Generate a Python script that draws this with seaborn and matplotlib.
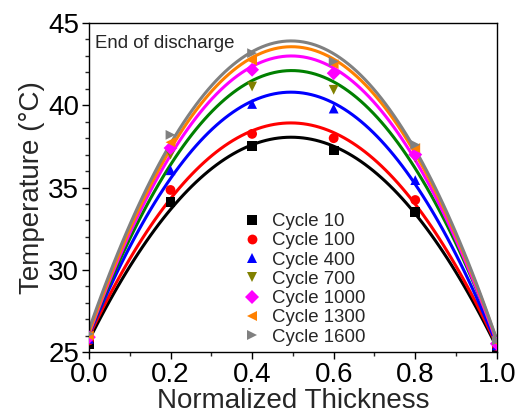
import numpy as np
import pandas as pd
import matplotlib
matplotlib.use("Agg")
import matplotlib.pyplot as plt
import seaborn as sns
from matplotlib.ticker import MultipleLocator, FormatStrFormatter

sns.set_theme(style="ticks")
plt.rcParams['font.family'] = ['Liberation Sans', 'DejaVu Sans']

# data
thickness = [0.0, 0.2, 0.4, 0.6, 0.8, 1.0]
cycles = ["Cycle 10", "Cycle 100", "Cycle 400", "Cycle 700", "Cycle 1000", "Cycle 1300", "Cycle 1600"]
temp_c10 = [25.5, 34.1, 37.5, 37.25, 33.5, 25.3]
temp_c100 = [25.7, 34.85, 38.26, 38.0, 34.24, 25.35]
temp_c400 = [25.8, 36.05, 40.08, 39.8, 35.45, 25.4]
temp_c700 = [25.85, 37.0, 41.14, 40.94, 36.8, 25.5]
temp_c1000 = [25.9, 37.4, 42.16, 41.95, 37.0, 25.5]
temp_c1300 = [26.0, 37.75, 42.72, 42.5, 37.4, 25.6]
temp_c1600 = [26.1, 38.2, 43.17, 42.66, 37.6, 25.7]

all_temps = [temp_c10, temp_c100, temp_c400, temp_c700, temp_c1000, temp_c1300, temp_c1600]
marker_colors = ["black", "red", "blue", "#808000", "magenta", "#FF8000", "#808080"]
line_colors = ["black", "red", "blue", "#008000", "magenta", "#FF8000", "#808080"]
markers = ["s", "o", "^", "v", "D", "<", ">"]

df = pd.DataFrame({
    "x": thickness * len(cycles),
    "T": [t for temps in all_temps for t in temps],
    "cycle": [c for c in cycles for _ in thickness],
})

fig = plt.figure(figsize=(5.17, 4.19), dpi=100)
ax = fig.add_axes([0.172, 0.16, 0.789, 0.785])

# quadratic fits, one per cycle
for i, c in enumerate(cycles):
    sub = df[df["cycle"] == c]
    sns.regplot(data=sub, x="x", y="T", order=2, ci=None, scatter=False,
                line_kws=dict(color=line_colors[i], lw=2.2), ax=ax, truncate=True)

# measured points
sns.scatterplot(data=df, x="x", y="T", hue="cycle", style="cycle",
                palette=marker_colors, markers=markers, s=50, linewidth=0,
                ax=ax, zorder=5)

ax.set_xlim(0, 1.0)
ax.set_ylim(25, 45)
ax.xaxis.set_major_locator(MultipleLocator(0.2))
ax.xaxis.set_minor_locator(MultipleLocator(0.1))
ax.yaxis.set_major_locator(MultipleLocator(5))
ax.yaxis.set_minor_locator(MultipleLocator(1))
ax.xaxis.set_major_formatter(FormatStrFormatter("%.1f"))
ax.tick_params(which="major", direction="out", length=5, width=1, labelsize=20,
               colors="black", pad=2)
ax.tick_params(which="minor", direction="out", length=3, width=1)
for s in ax.spines.values():
    s.set_color("black")
    s.set_linewidth(1.0)

ax.set_xlabel("Normalized Thickness", fontsize=20, labelpad=0)
ax.set_ylabel("Temperature (\u00b0C)", fontsize=20, labelpad=2)
ax.text(0.015, 0.965, "End of discharge", transform=ax.transAxes, fontsize=13.4,
        va="top", ha="left")

leg = ax.legend(loc="upper left", bbox_to_anchor=(0.358, 0.445), frameon=False,
                fontsize=13.4, handlelength=1.0, handletextpad=0.6,
                labelspacing=0.12, borderaxespad=0, markerscale=1.0)

fig.savefig("out.png", dpi=100)
